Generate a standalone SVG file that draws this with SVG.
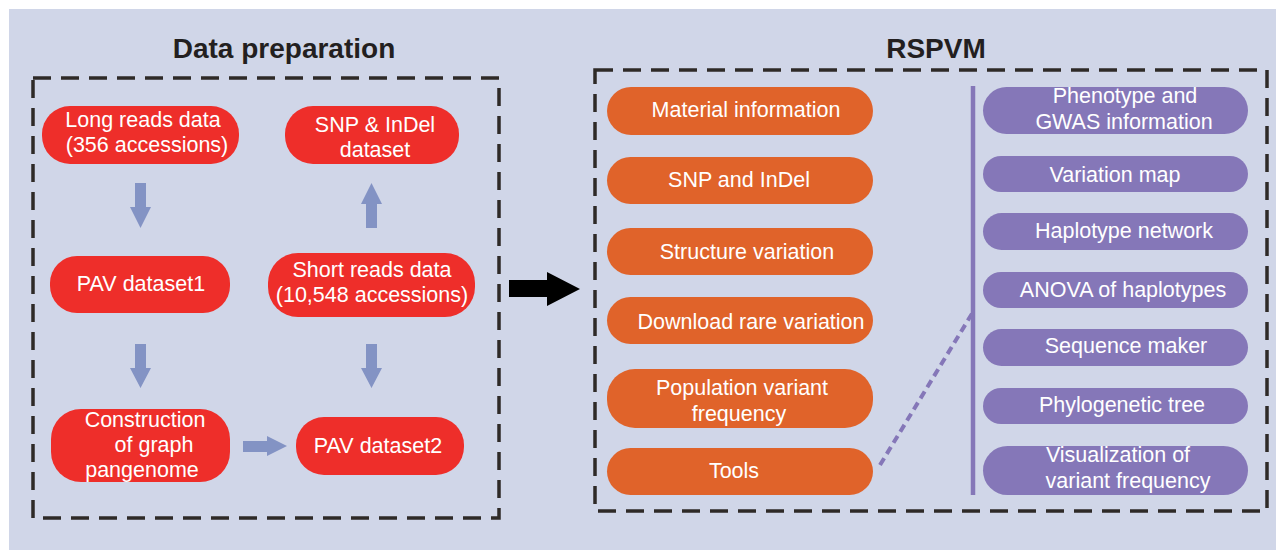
<svg xmlns="http://www.w3.org/2000/svg" width="1276" height="550" viewBox="0 0 1276 550">
  <defs>
    <style>
      .bg { fill: #D0D6E8; }
      .frame { fill: none; stroke: #2E2A27; stroke-width: 3.5; stroke-dasharray: 18 10; }
      .title { font-family: "Liberation Sans", Arial, sans-serif; font-weight: bold; font-size: 28px; fill: #231F20; text-anchor: middle; }
      .lbl { font-family: "Liberation Sans", Arial, sans-serif; font-size: 21.5px; fill: #FFFFFF; text-anchor: middle; }
      .red { fill: #EE2E2A; }
      .orange { fill: #E0632A; }
      .purple { fill: #8577B8; }
      .flow { fill: #8393C4; }
    </style>
  </defs>

  <rect x="0" y="0" width="1276" height="550" fill="#FFFFFF"/>
  <rect class="bg" x="9" y="9" width="1267" height="541"/>

  <!-- section titles -->
  <text class="title" x="284" y="58">Data preparation</text>
  <text class="title" x="936" y="58">RSPVM</text>

  <!-- dashed frames -->
  <rect class="frame" x="33" y="78" width="466" height="440"/>
  <rect class="frame" x="595" y="70" width="672" height="441"/>

  <!-- data preparation nodes -->
  <g id="long-reads">
    <rect class="red" x="42" y="106" width="197" height="58" rx="28"/>
    <text class="lbl" x="143" y="127">Long reads data</text>
    <text class="lbl" x="147" y="152">(356 accessions)</text>
  </g>
  <g id="snp-indel-dataset">
    <rect class="red" x="285" y="106" width="174" height="58" rx="28"/>
    <text class="lbl" x="375" y="132">SNP &amp; InDel</text>
    <text class="lbl" x="375" y="157">dataset</text>
  </g>
  <g id="pav-dataset1">
    <rect class="red" x="50" y="256" width="180" height="57" rx="27"/>
    <text class="lbl" x="141" y="291">PAV dataset1</text>
  </g>
  <g id="short-reads">
    <rect class="red" x="268" y="253" width="207" height="64" rx="30"/>
    <text class="lbl" x="372" y="277">Short reads data</text>
    <text class="lbl" x="372" y="302">(10,548 accessions)</text>
  </g>
  <g id="construction">
    <rect class="red" x="51" y="409" width="179" height="73" rx="30"/>
    <text class="lbl" x="145" y="427">Construction</text>
    <text class="lbl" x="154" y="452">of graph</text>
    <text class="lbl" x="142" y="477">pangenome</text>
  </g>
  <g id="pav-dataset2">
    <rect class="red" x="296" y="417" width="168" height="58" rx="28"/>
    <text class="lbl" x="378" y="453">PAV dataset2</text>
  </g>

  <!-- RSPVM modules -->
  <g id="material-information">
    <rect class="orange" x="607" y="87" width="266" height="48" rx="24"/>
    <text class="lbl" x="746" y="117">Material information</text>
  </g>
  <g id="snp-and-indel">
    <rect class="orange" x="607" y="157" width="266" height="47" rx="23.5"/>
    <text class="lbl" x="739" y="187">SNP and InDel</text>
  </g>
  <g id="structure-variation">
    <rect class="orange" x="607" y="228" width="266" height="47" rx="23.5"/>
    <text class="lbl" x="747" y="259">Structure variation</text>
  </g>
  <g id="download-rare-variation">
    <rect class="orange" x="607" y="297" width="266" height="47" rx="23.5"/>
    <text class="lbl" x="751" y="329">Download rare variation</text>
  </g>
  <g id="population-variant-frequency">
    <rect class="orange" x="607" y="369" width="266" height="59" rx="28"/>
    <text class="lbl" x="742" y="395">Population variant</text>
    <text class="lbl" x="739" y="421">frequency</text>
  </g>
  <g id="tools">
    <rect class="orange" x="607" y="448" width="266" height="47" rx="23.5"/>
    <text class="lbl" x="734" y="478">Tools</text>
  </g>

  <!-- tool modules -->
  <g id="phenotype-gwas">
    <rect class="purple" x="983" y="87" width="265" height="47" rx="23.5"/>
    <text class="lbl" x="1125" y="103">Phenotype and</text>
    <text class="lbl" x="1124" y="129">GWAS information</text>
  </g>
  <g id="variation-map">
    <rect class="purple" x="983" y="156" width="265" height="36" rx="18"/>
    <text class="lbl" x="1115" y="182">Variation map</text>
  </g>
  <g id="haplotype-network">
    <rect class="purple" x="983" y="213" width="265" height="37" rx="18.5"/>
    <text class="lbl" x="1124" y="238">Haplotype network</text>
  </g>
  <g id="anova-haplotypes">
    <rect class="purple" x="983" y="272" width="265" height="36" rx="18"/>
    <text class="lbl" x="1123" y="297">ANOVA of haplotypes</text>
  </g>
  <g id="sequence-maker">
    <rect class="purple" x="983" y="329" width="265" height="37" rx="18.5"/>
    <text class="lbl" x="1126" y="353">Sequence maker</text>
  </g>
  <g id="phylogenetic-tree">
    <rect class="purple" x="983" y="388" width="265" height="36" rx="18"/>
    <text class="lbl" x="1122" y="412">Phylogenetic tree</text>
  </g>
  <g id="visualization-frequency">
    <rect class="purple" x="983" y="446" width="265" height="49" rx="24.5"/>
    <text class="lbl" x="1118" y="462">Visualization of</text>
    <text class="lbl" x="1128" y="488">variant frequency</text>
  </g>

  <!-- connectors -->
  <g id="connectors">
    <!-- block arrows inside data preparation -->
    <polygon class="flow" points="135,183 146,183 146,207 151,207 140.5,228 130,207 135,207"/>
    <polygon class="flow" points="366,228 377,228 377,204 382,204 371.5,183 361,204 366,204"/>
    <polygon class="flow" points="135,344 146,344 146,368 151,368 140.5,388 130,368 135,368"/>
    <polygon class="flow" points="366,344 377,344 377,368 382,368 371.5,388 361,368 366,368"/>
    <polygon class="flow" points="243,441 267,441 267,436 287,446 267,456 267,452 243,452"/>
    <!-- main flow arrow -->
    <polygon fill="#000000" points="509,280 547,280 547,272 580,289 547,306 547,297 509,297"/>
    <!-- tool bracket -->
    <line x1="973" y1="86" x2="973" y2="495" stroke="#8577B8" stroke-width="4.5"/>
    <line x1="880" y1="465" x2="973" y2="312" stroke="#8577B8" stroke-width="4" stroke-dasharray="8 5"/>
  </g>
</svg>
